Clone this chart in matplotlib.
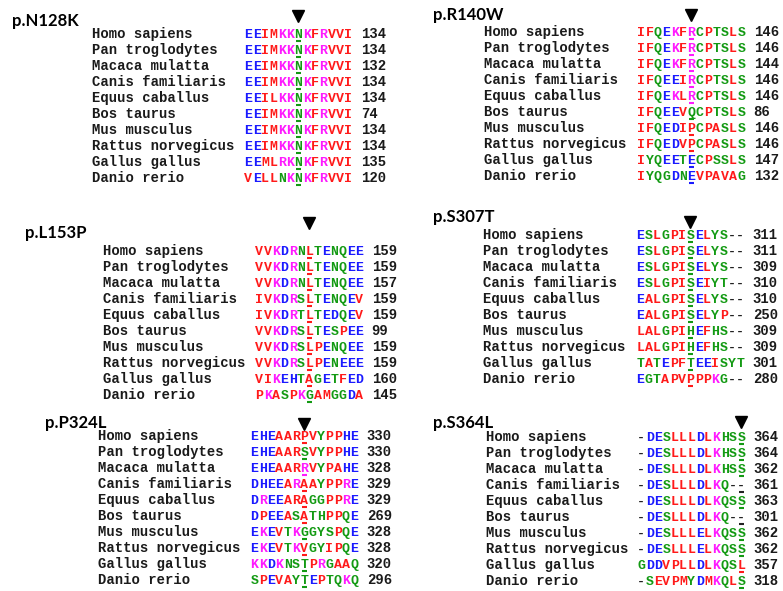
import matplotlib.pyplot as plt

# species order is the same in every panel
species = ['Homo sapiens', 'Pan troglodytes', 'Macaca mulatta', 'Canis familiaris',
           'Equus caballus', 'Bos taurus', 'Mus musculus', 'Rattus norvegicus',
           'Gallus gallus', 'Danio rerio']

titles = ['p.N128K', 'p.R140W', 'p.L153P', 'p.S307T', 'p.P324L', 'p.S364L']

# aligned residues, per-residue colour codes and end positions
seq_n128k = ['EEIMKKNKFRVVI', 'EEIMKKNKFRVVI', 'EEIMKKNKFRVVI', 'EEIMKKNKFRVVI', 'EEILKKNKFRVVI',
             'EEIMKKNKFRVVI', 'EEIMKKNKFRVVI', 'EEIMKKNKFRVVI', 'EEMLRKNKFRVVI', 'VELLNKNKFRVVI']
col_n128k = ['bbrrmmgmrmrrr'] * 9 + ['rbrrgmgmrmrrr']
num_n128k = [134, 134, 132, 134, 134, 74, 134, 134, 135, 120]

seq_r140w = ['IFQEKFRCPTSLS', 'IFQEKFRCPTSLS', 'IFQEKFRCPTSLS', 'IFQEEIRCPTSLS', 'IFQEKLRCPTSLS',
             'IFQEEVQCPTSLS', 'IFQEDIPCPASLS', 'IFQEDVPCPASLS', 'IYQEETECPSSLS', 'IYQGDNEVPAVAG']
col_r140w = ['rrgbmrmgrggrg', 'rrgbmrmgrggrg', 'rrgbmrmgrggrg', 'rrgbbrmgrggrg', 'rrgbmrmgrggrg',
             'rrgbbrggrggrg', 'rrgbbrrgrrgrg', 'rrgbbrrgrrgrg', 'rggbbgbgrggrg', 'rgggbgbrrrrrg']
num_r140w = [146, 146, 144, 146, 146, 86, 146, 146, 147, 132]

seq_l153p = ['VVKDRNLTENQEE', 'VVKDRNLTENQEE', 'VVKDRNLTENQEE', 'IVKDRSLTENQEV', 'IVKDRTLTEDQEV',
             'VVKDRSLTESPEE', 'VVKDRSLPENQEE', 'VVKDRSLPENEEE', 'VIKEHTAGETFED', 'PKASPKGAMGGDA']
col_l153p = ['rrmbmgrgbggbb', 'rrmbmgrgbggbb', 'rrmbmgrgbggbb', 'rrmbmgrgbggbr', 'rrmbmgrgbbgbr',
             'rrmbmgrgbgrbb', 'rrmbmgrrbggbb', 'rrmbmgrrbgbbb', 'rrmbbgrgbgrbb', 'rmrgrmgrrggbr']
num_l153p = [159, 159, 157, 159, 159, 99, 159, 159, 160, 145]

seq_s307t = ['ESLGPISELYS--', 'ESLGPISELYS--', 'ESLGPISELYS--', 'ESLGPISEIYT--', 'EALGPISELYS--',
             'EALGPISELYP--', 'LALGPIHEFHS--', 'LALGPIHEFHS--', 'TATEPFTEEISYT', 'EGTAPVPPPKG--']
col_s307t = ['bgrgrrgbrggkk', 'bgrgrrgbrggkk', 'bgrgrrgbrggkk', 'bgrgrrgbrggkk', 'brrgrrgbrggkk',
             'brrgrrgbrgrkk', 'rrrgrrgbrggkk', 'rrrgrrgbrggkk', 'grgbrrgbbrggg', 'bggrrrrrrmgkk']
num_s307t = [311, 311, 309, 310, 310, 250, 309, 309, 301, 280]

seq_p324l = ['EHEAARPVYPPHE', 'EHEAARSVYPPHE', 'EHEAARRVYPAHE', 'DHEEARAAYPPRE', 'DREEARAGGPPRE',
             'DPEEASATHPPQE', 'EKEVTKGGYSPQE', 'EKEVTKVGYIPQE', 'KKDKNSTPRGAAQ', 'SPEVAYTEPTQKQ']
col_p324l = ['bbbrrrrrgrrbb', 'bbbrrrgrgrrbb', 'bbbrrrmrgrrbb', 'bbbbrmrrgrrmb', 'bmbbrrrggrrmb',
             'brbbrgrggrrgb', 'bmbrgmggggrgb', 'bmbrgmrggrrgb', 'mmbmgggrmgrrg', 'grbrrggbrggmg']
num_p324l = [330, 330, 328, 329, 329, 269, 328, 328, 320, 296]

seq_s364l = ['-DESLLLDLKHSS', '-DESLLLDLKHSS', '-DESLLLDLKHSS', '-DESLLLDLKQ--', '-DESLLLDLKQSS',
             '-DESLLLDLKQ--', '-DESLLLELKQSS', '-DESLLLELKQSS', 'GDDVPLLDLKQSL', '-SEVPMYDMKQLS']
col_s364l = ['kbbgrrrbrmggg', 'kbbgrrrbrmggg', 'kbbgrrrbrmggg', 'kbbgrrrbrmgkk', 'kbbgrrrbrmggg',
             'kbbgrrrbrmgkk', 'kbbgrrrbrmggg', 'kbbgrrrbrmggg', 'gbbrrrrbrmggr', 'kgrrrrgbrmgrg']
num_s364l = [364, 364, 362, 361, 363, 301, 362, 362, 357, 318]

mut_index = [6, 6, 6, 6, 6, 12]

palette = {'r': '#ff1a1a', 'b': '#1a1aff', 'm': '#ff1aff', 'g': '#139a13', 'k': '#222222'}

# layout in pixels: title x, title y, species x, sequence x, first row y, arrow y
layout = [(12, 21, 92, 244, 34, 16),
          (433, 15, 484, 637, 32, 15),
          (25, 233, 103, 255, 251, 223),
          (433, 217, 483, 636, 235, 222),
          (45, 423, 98, 250, 436, 424),
          (433, 423, 486, 637, 437, 422)]

panels = [(seq_n128k, col_n128k, num_n128k), (seq_r140w, col_r140w, num_r140w),
          (seq_l153p, col_l153p, num_l153p), (seq_s307t, col_s307t, num_s307t),
          (seq_p324l, col_p324l, num_p324l), (seq_s364l, col_s364l, num_s364l)]

fig = plt.figure(figsize=(7.83, 5.91), dpi=100)
ax = fig.add_axes([0, 0, 1, 1])
ax.set_xlim(0, 783)
ax.set_ylim(591, 0)
ax.axis('off')

fs = 10
cw = fs / 72 * 100 * 0.6  # monospace advance in pixels
step = 16
mono = dict(family='Liberation Mono', fontsize=fs, fontweight='bold', va='baseline')
glyph = dict(family='Liberation Mono', fontsize=9.5, fontweight='bold', va='baseline')

for p, (seqs, cols, nums) in enumerate(panels):
    tx, ty, sx, qx, y0, ay = layout[p]
    ax.text(tx, ty, titles[p], family='Lato', fontsize=12, fontweight='bold',
            va='center', ha='left')
    m = mut_index[p]
    ax.plot(qx + (m + 0.5) * cw, ay, marker='v', ms=8.5, color='black', mec='black')
    for r in range(len(species)):
        y = y0 + r * step
        ax.text(sx, y + 4, species[r], color='#1a1a1a', **mono)
        for i, (ch, c) in enumerate(zip(seqs[r], cols[r])):
            ax.text(qx + i * cw + 0.3, y + 4, ch, color=palette[c], **glyph)
        uc = palette[cols[r][m]]
        ax.plot([qx + m * cw + 1.5, qx + (m + 1) * cw - 1.5], [y + 6.5, y + 6.5], color=uc,
                lw=1.5, solid_capstyle='butt')
        ax.text(qx + 14 * cw, y + 4, str(nums[r]), color='#1a1a1a', **mono)

fig.savefig('out.png', dpi=100)
